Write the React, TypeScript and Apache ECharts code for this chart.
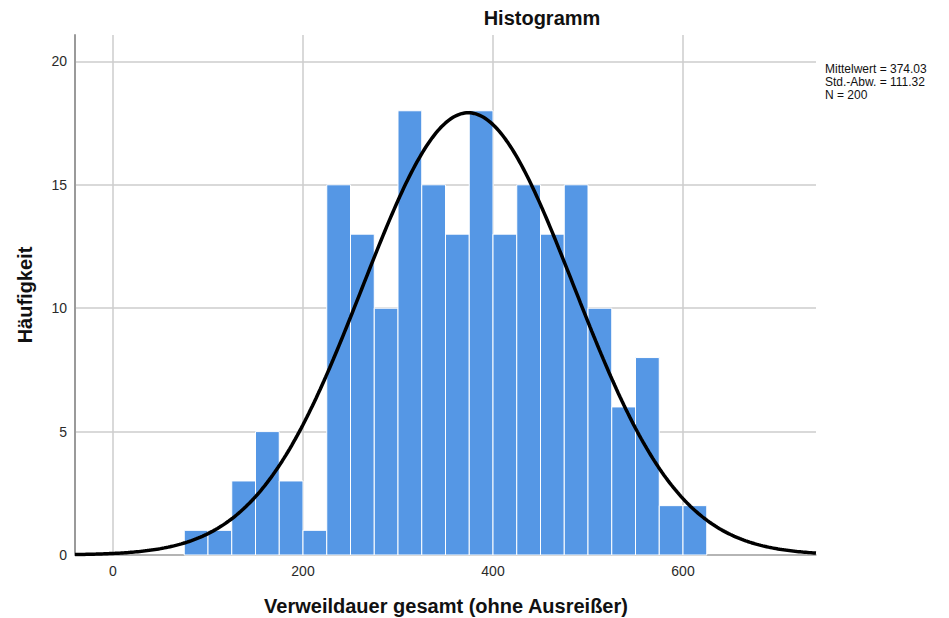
import React, { useEffect, useRef } from "react";
import * as echarts from "echarts";

// Histogram bins (width 25) and their frequencies
const binStarts = [75, 100, 125, 150, 175, 200, 225, 250, 275, 300, 325, 350, 375, 400, 425, 450, 475, 500, 525, 550, 575, 600];
const counts = [1, 1, 3, 5, 3, 1, 15, 13, 10, 18, 15, 13, 18, 13, 15, 13, 15, 10, 6, 8, 2, 2];
const binWidth = 25;

// Summary statistics shown beside the plot
const mean = 374.03;
const stdDev = 111.32;
const n = 200;

const xTicks = [0, 200, 400, 600];
const FONT = "'Liberation Sans', Arial, sans-serif";

// Fitted normal curve, scaled to the histogram's frequencies
function normalCurve(): number[][] {
  const pts: number[][] = [];
  const k = (n * binWidth) / (stdDev * Math.sqrt(2 * Math.PI));
  for (let x = -40; x <= 740; x += 2) {
    const z = (x - mean) / stdDev;
    pts.push([x, k * Math.exp(-0.5 * z * z)]);
  }
  return pts;
}

export default function App() {
  const ref = useRef<HTMLDivElement>(null);

  useEffect(() => {
    if (!ref.current) return;
    const chart = echarts.init(ref.current, undefined, { renderer: "svg" });
    const bars = binStarts.map((s, i) => [s, s + binWidth, counts[i]]);
    const statLines = [
      `Mittelwert = ${mean.toFixed(2)}`,
      `Std.-Abw. = ${stdDev.toFixed(2)}`,
      `N = ${n}`,
    ];

    chart.setOption({
      animation: false,
      backgroundColor: "#ffffff",
      grid: { left: 75, right: 133, top: 35, bottom: 63 },
      xAxis: {
        type: "value",
        min: -40,
        max: 740,
        axisLine: { show: true, onZero: false, lineStyle: { color: "#a8a8a8", width: 1.5 } },
        axisTick: { show: false, customValues: xTicks },
        axisLabel: { customValues: xTicks, color: "#2a2a2a", fontSize: 14, fontFamily: FONT, margin: 9 },
        splitLine: { show: true, lineStyle: { color: "#cccccc", width: 1.5 } },
      },
      yAxis: {
        type: "value",
        min: 0,
        max: 21.07,
        interval: 5,
        axisLine: { show: true, onZero: false, lineStyle: { color: "#9a9a9a", width: 2 } },
        axisTick: { show: false },
        axisLabel: { showMaxLabel: false, color: "#2a2a2a", fontSize: 14, fontFamily: FONT, margin: 8 },
        splitLine: { show: true, showMaxLine: false, lineStyle: { color: "#cccccc", width: 1.5 } },
      },
      series: [
        {
          type: "custom",
          data: bars,
          encode: { x: [0, 1], y: 2 },
          renderItem: (_params: any, api: any) => {
            const x0 = api.value(0);
            const x1 = api.value(1);
            const c = api.value(2);
            const p0 = api.coord([x0, c]);
            const p1 = api.coord([x1, 0]);
            return {
              type: "rect",
              shape: { x: p0[0], y: p0[1], width: p1[0] - p0[0], height: p1[1] - p0[1] },
              style: { fill: "#5597e5", stroke: "#ffffff", lineWidth: 1 },
            };
          },
          z: 2,
        },
        {
          type: "line",
          data: normalCurve(),
          showSymbol: false,
          smooth: false,
          lineStyle: { color: "#000000", width: 3.5 },
          z: 3,
        },
      ],
      graphic: [
        {
          type: "text",
          x: 542,
          y: 18,
          style: {
            text: "Histogramm",
            font: `bold 20px ${FONT}`,
            fill: "#111111",
            align: "center",
            verticalAlign: "middle",
          },
        },
        ...statLines.map((t, i) => ({
          type: "text",
          x: 825,
          y: 69 + i * 13,
          style: {
            text: t,
            font: `12px ${FONT}`,
            fill: "#111111",
            align: "left",
            verticalAlign: "middle",
          },
        })),
        {
          type: "text",
          x: 25,
          y: 295,
          rotation: Math.PI / 2,
          style: {
            text: "Häufigkeit",
            font: `bold 20px ${FONT}`,
            fill: "#111111",
            align: "center",
            verticalAlign: "middle",
          },
        },
        {
          type: "text",
          x: 446,
          y: 606,
          style: {
            text: "Verweildauer gesamt (ohne Ausreißer)",
            font: `bold 20px ${FONT}`,
            fill: "#111111",
            align: "center",
            verticalAlign: "middle",
          },
        },
      ],
    });

    return () => chart.dispose();
  }, []);

  return (
    <div
      ref={ref}
      style={{ position: "fixed", left: 0, top: 0, width: 949, height: 618 }}
    />
  );
}
